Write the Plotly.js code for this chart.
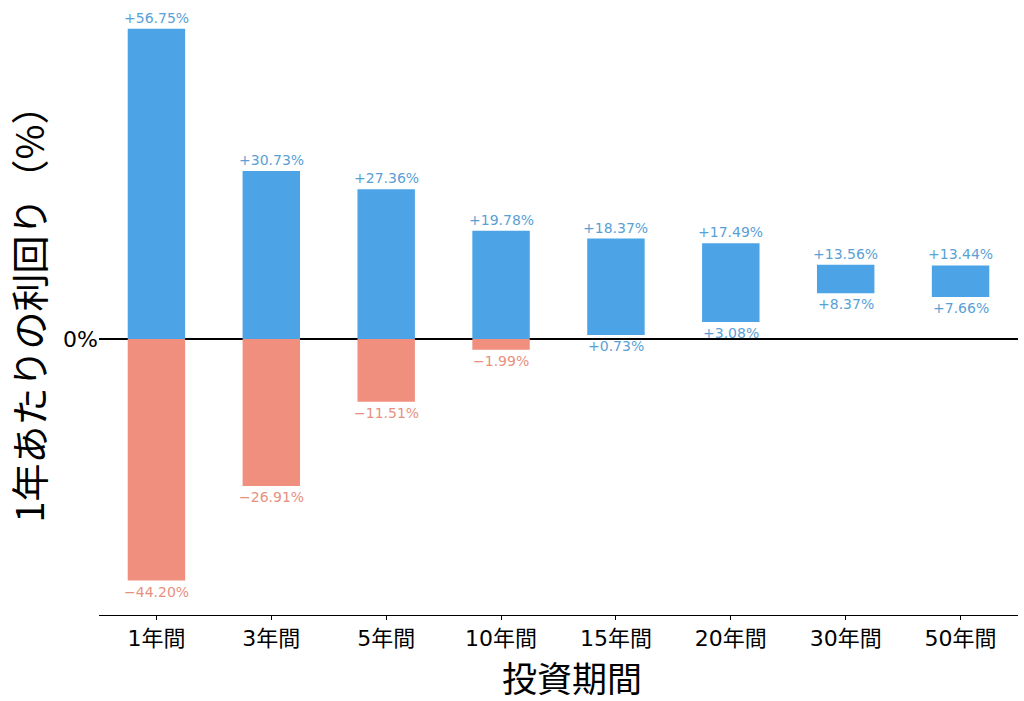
<!DOCTYPE html>
<html><head><meta charset="utf-8">
<script src="https://cdn.plot.ly/plotly-3.0.1.min.js"></script>
<style>html,body{margin:0;padding:0;background:#fff}#chart{width:1024px;height:701px}</style>
</head><body><div id="chart"></div>
<script>
const periods = ['1年間','3年間','5年間','10年間','15年間','20年間','30年間','50年間'];
const maxReturns = [56.75, 30.73, 27.36, 19.78, 18.37, 17.49, 13.56, 13.44];
const minReturns = [-44.20, -26.91, -11.51, -1.99, 0.73, 3.08, 8.37, 7.66];

const BLUE = '#4ca3e6', RED = '#f08f7e';
const BLUE_T = '#5a9fd6', RED_T = '#e8907f';
const FONT = 'DejaVu Sans, "Noto Sans CJK JP", sans-serif';
const JP = '"Noto Sans CJK JP", sans-serif';
const fmt = v => (v >= 0 ? '+' : '\u2212') + Math.abs(v).toFixed(2) + '%';

const blueBase = minReturns.map(v => Math.max(v, 0));
const blueLen = maxReturns.map((v, i) => v - blueBase[i]);
const redBase = minReturns.map(v => v < 0 ? v : 0);
const redLen = minReturns.map(v => v < 0 ? -v : 0);

const traces = [
  {type:'bar', x:periods, y:blueLen, base:blueBase, width:0.5, marker:{color:BLUE}, hoverinfo:'skip'},
  {type:'bar', x:periods, y:redLen, base:redBase, width:0.5, marker:{color:RED}, hoverinfo:'skip'}
];

const labelAnn = [];
periods.forEach((p, i) => {
  labelAnn.push({x:p, y:maxReturns[i], xref:'x', yref:'y', text:fmt(maxReturns[i]), showarrow:false,
    xanchor:'center', yanchor:'bottom', yshift:1, font:{family:FONT, size:14, color:BLUE_T}});
  labelAnn.push({x:p, y:minReturns[i], xref:'x', yref:'y', text:fmt(minReturns[i]), showarrow:false,
    xanchor:'center', yanchor:'top', yshift:-1, font:{family:FONT, size:14, color:minReturns[i] < 0 ? RED_T : BLUE_T}});
});

const layout = {
  width:1024, height:701,
  margin:{l:99, r:6, t:0, b:86},
  paper_bgcolor:'#fff', plot_bgcolor:'#fff',
  showlegend:false, barmode:'overlay',
  font:{family:FONT, color:'#000'},
  xaxis:{type:'category', range:[-0.5, 7.5], showline:true, linecolor:'#000', linewidth:1,
    ticks:'outside', ticklen:4, tickcolor:'#000', tickfont:{size:22, family:FONT, color:'#000'},
    showgrid:false, zeroline:false, fixedrange:true},
  yaxis:{range:[-50.5, 62], tickvals:[0], ticktext:['0%'], tickfont:{size:22, family:FONT, color:'#000'},
    showgrid:false, showline:false, ticks:'', zeroline:true, zerolinecolor:'#000', zerolinewidth:1.6,
    fixedrange:true},
  annotations: labelAnn.concat([
    {text:'投資期間', xref:'paper', yref:'paper', x:0.5, y:0, xshift:13, yshift:-61, xanchor:'center', yanchor:'middle',
     showarrow:false, font:{size:35, family:JP, color:'#000'}},
    {text:'1年あたりの利回り（%）', xref:'paper', yref:'paper', x:0, y:0.5, xshift:-72, yshift:3, xanchor:'center', yanchor:'middle',
     textangle:-90, showarrow:false, font:{size:38, family:JP, color:'#000'}}
  ])
};
Plotly.newPlot('chart', traces, layout, {displayModeBar:false, staticPlot:true});
</script></body></html>
